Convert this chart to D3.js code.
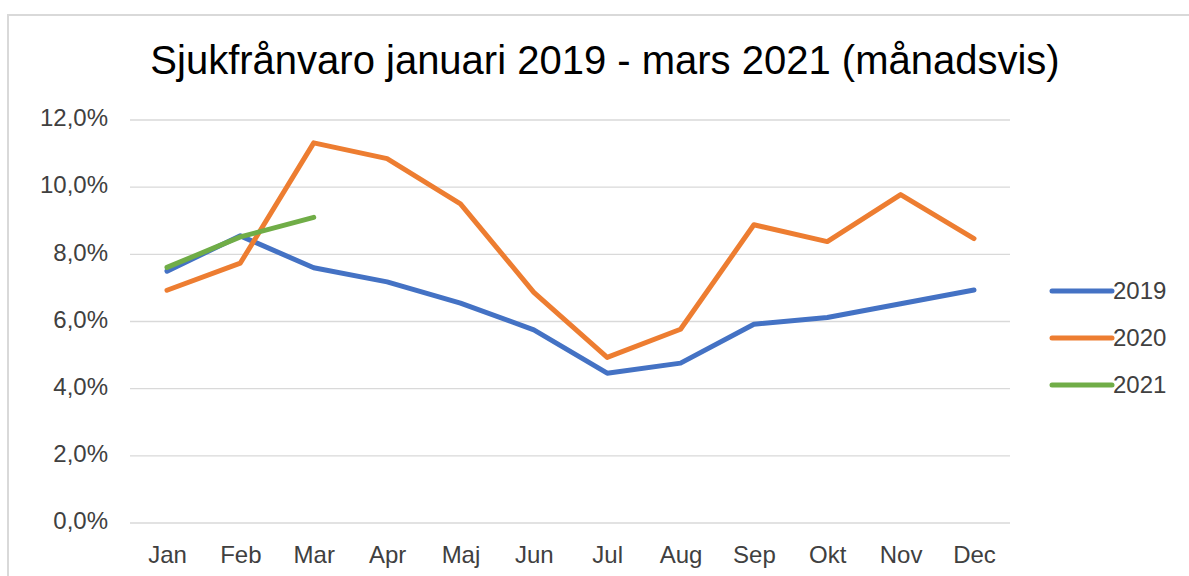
<!DOCTYPE html>
<html>
<head>
<meta charset="utf-8">
<script src="https://cdn.jsdelivr.net/npm/d3@7"></script>
<style>
  body { margin: 0; background: #fff; }
  svg { display: block; font-family: "Liberation Sans", Arial, sans-serif; }
</style>
</head>
<body>
<div id="chart"></div>
<script>
var months = ["Jan", "Feb", "Mar", "Apr", "Maj", "Jun", "Jul", "Aug", "Sep", "Okt", "Nov", "Dec"];
var values2019 = [7.5, 8.55, 7.6, 7.18, 6.55, 5.75, 4.46, 4.76, 5.92, 6.12, 6.53, 6.94];
var values2020 = [6.93, 7.74, 11.32, 10.85, 9.5, 6.87, 4.93, 5.77, 8.88, 8.38, 9.78, 8.47];
var values2021 = [7.61, 8.52, 9.1];
var seriesNames = ["2019", "2020", "2021"];
var seriesColors = ["#4472C4", "#ED7D31", "#70AD47"];
var yTicks = [0, 2, 4, 6, 8, 10, 12];

var w = 1189;
var h = 576;

var series = [values2019, values2020, values2021].map(function(vals, i) {
  return {
    name: seriesNames[i],
    color: seriesColors[i],
    values: vals.map(function(v, j) { return { month: months[j], value: v }; })
  };
});

var svg = d3.select("#chart")
  .append("svg")
  .attr("width", w)
  .attr("height", h);

// outer chart frame (cut off at right/bottom like the screenshot)
svg.append("path")
  .attr("d", "M8," + h + " L8,15 L" + w + ",15")
  .style("fill", "none")
  .style("stroke", "#d9d9d9")
  .style("stroke-width", 2);

svg.append("text")
  .attr("x", 605)
  .attr("y", 74)
  .attr("text-anchor", "middle")
  .style("font-size", "40px")
  .style("fill", "#000")
  .text("Sjukfrånvaro januari 2019 - mars 2021 (månadsvis)");

var xscale = d3.scalePoint()
  .domain(months)
  .range([167, 974]);

var yscale = d3.scaleLinear()
  .domain([0, 12])
  .range([523, 120]);

// gridlines
svg.append("g")
  .selectAll("line")
  .data(yTicks)
  .enter().append("line")
  .attr("x1", 130)
  .attr("x2", 1010)
  .attr("y1", function(d) { return yscale(d); })
  .attr("y2", function(d) { return yscale(d); })
  .style("stroke", "#d9d9d9")
  .style("stroke-width", 1.3);

var yaxis = d3.axisLeft()
  .scale(yscale)
  .tickValues(yTicks)
  .tickSize(0)
  .tickPadding(0)
  .tickFormat(function(d) { return d3.format(".1f")(d).replace(".", ",") + "%"; });

var gy = svg.append("g")
  .attr("transform", "translate(108,-2)")
  .call(yaxis);
gy.select(".domain").remove();
gy.selectAll("text")
  .style("font-size", "24px")
  .style("fill", "#404040")
  .style("font-family", "Liberation Sans, Arial, sans-serif");

var xaxis = d3.axisBottom()
  .scale(xscale)
  .tickSize(0)
  .tickPadding(0);

var gx = svg.append("g")
  .attr("transform", "translate(0,546)")
  .call(xaxis);
gx.select(".domain").remove();
gx.selectAll("text")
  .style("font-size", "24px")
  .style("fill", "#404040")
  .style("font-family", "Liberation Sans, Arial, sans-serif");

var line = d3.line()
  .x(function(d) { return xscale(d.month); })
  .y(function(d) { return yscale(d.value); });

// draw 2021 last so it sits on top
svg.selectAll("path.line")
  .data(series)
  .enter().append("path")
  .attr("class", "line")
  .style("fill", "none")
  .style("stroke", function(d) { return d.color; })
  .style("stroke-width", 5)
  .style("stroke-linejoin", "round")
  .style("stroke-linecap", "round")
  .attr("d", function(d) { return line(d.values); });

// legend
var legend = svg.append("g")
  .selectAll("g")
  .data(series)
  .enter().append("g")
  .attr("transform", function(d, i) { return "translate(1052," + (291 + i * 47) + ")"; });

legend.append("line")
  .attr("x1", 0)
  .attr("x2", 60)
  .style("stroke", function(d) { return d.color; })
  .style("stroke-width", 5)
  .style("stroke-linecap", "round");

legend.append("text")
  .attr("x", 61)
  .attr("y", 8)
  .style("font-size", "24px")
  .style("fill", "#404040")
  .text(function(d) { return d.name; });
</script>
</body>
</html>
